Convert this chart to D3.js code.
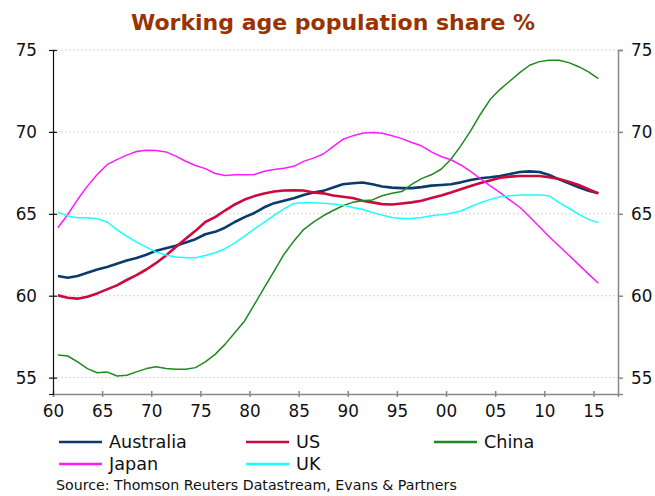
<!DOCTYPE html>
<html>
<head>
<meta charset="utf-8">
<script src="https://cdn.jsdelivr.net/npm/d3@7"></script>
<style>
  body { margin: 0; background: #fff; }
  text { font-family: "DejaVu Sans", Verdana, sans-serif; }
</style>
</head>
<body>
<div class="chart-area"></div>
<script>
const width = 655
const height = 496
const margin = { top: 50, right: 37, bottom: 102, left: 53 }

// annual data, 1960 to 2015
const years = d3.range(1960, 2016)
const australia = [61.2, 61.1, 61.2, 61.4, 61.6, 61.75, 61.95, 62.15, 62.3, 62.5,
  62.75, 62.9, 63.05, 63.25, 63.45, 63.75, 63.9, 64.15, 64.5, 64.8,
  65.05, 65.4, 65.65, 65.8, 65.95, 66.15, 66.3, 66.4, 66.6, 66.8,
  66.87, 66.91, 66.8, 66.67, 66.6, 66.57, 66.57, 66.63, 66.72, 66.76,
  66.8, 66.92, 67.06, 67.17, 67.23, 67.31, 67.43, 67.55, 67.59, 67.55,
  67.37, 67.1, 66.86, 66.62, 66.41, 66.25]
const us = [60.02, 59.88, 59.82, 59.94, 60.14, 60.39, 60.63, 60.96, 61.26, 61.6,
  62.0, 62.46, 62.97, 63.48, 63.96, 64.5, 64.8, 65.2, 65.57, 65.87,
  66.08, 66.24, 66.36, 66.42, 66.44, 66.42, 66.3, 66.25, 66.12, 66.04,
  65.96, 65.8, 65.7, 65.59, 65.57, 65.63, 65.7, 65.8, 65.96, 66.12,
  66.3, 66.5, 66.7, 66.88, 67.04, 67.2, 67.27, 67.31, 67.31, 67.31,
  67.23, 67.12, 66.96, 66.76, 66.5, 66.25]
const china = [56.38, 56.32, 55.96, 55.55, 55.3, 55.35, 55.1, 55.14, 55.35, 55.55,
  55.67, 55.55, 55.51, 55.51, 55.61, 55.96, 56.42, 57.03, 57.74, 58.46,
  59.47, 60.49, 61.5, 62.52, 63.33, 64.04, 64.49, 64.88, 65.2, 65.49,
  65.7, 65.8, 65.85, 66.1, 66.26, 66.36, 66.8, 67.15, 67.38, 67.72,
  68.33, 69.15, 70.06, 71.08, 71.99, 72.6, 73.11, 73.62, 74.07, 74.29,
  74.37, 74.37, 74.23, 73.98, 73.66, 73.25]
const japan = [64.15, 64.96, 65.87, 66.69, 67.4, 68.0, 68.31, 68.58, 68.8, 68.88,
  68.86, 68.78, 68.52, 68.21, 67.95, 67.76, 67.46, 67.34, 67.38, 67.38,
  67.4, 67.6, 67.7, 67.78, 67.9, 68.2, 68.4, 68.65, 69.1, 69.55,
  69.76, 69.92, 69.96, 69.92, 69.76, 69.59, 69.35, 69.15, 68.78, 68.5,
  68.3, 67.98, 67.59, 67.14, 66.7, 66.29, 65.84, 65.4, 64.82, 64.21,
  63.6, 63.03, 62.47, 61.9, 61.32, 60.76]
const uk = [65.1, 64.86, 64.76, 64.76, 64.7, 64.5, 64.04, 63.64, 63.27, 62.97,
  62.66, 62.48, 62.36, 62.32, 62.32, 62.46, 62.62, 62.87, 63.23, 63.64,
  64.08, 64.49, 64.9, 65.3, 65.63, 65.67, 65.67, 65.65, 65.6, 65.53,
  65.39, 65.28, 65.08, 64.92, 64.78, 64.72, 64.72, 64.78, 64.88, 64.95,
  65.03, 65.17, 65.43, 65.68, 65.88, 66.04, 66.1, 66.15, 66.15, 66.15,
  66.1, 65.68, 65.34, 64.97, 64.66, 64.46]

const yTicks = [55, 60, 65, 70, 75]
const xTicks = d3.range(1960, 2016, 5)

const series = [
  { name: 'Australia', values: australia, color: '#0c3a6c', width: 2.6 },
  { name: 'US', values: us, color: '#cc0a3e', width: 2.6 },
  { name: 'China', values: china, color: '#1e8a1e', width: 1.5 },
  { name: 'Japan', values: japan, color: '#ff1aff', width: 1.5 },
  { name: 'UK', values: uk, color: '#1affff', width: 1.5 }
]

const svg = d3.select('.chart-area').append('svg')
  .attr('width', width)
  .attr('height', height)

const x = d3.scaleLinear()
  .domain([1960, 2017.5])
  .range([margin.left, width - margin.right])
const y = d3.scaleLinear()
  .domain([54, 75])
  .range([height - margin.bottom, margin.top])

// title
svg.append('text')
  .attr('x', 333)
  .attr('y', 30)
  .attr('text-anchor', 'middle')
  .attr('font-size', 22)
  .attr('font-weight', 'bold')
  .attr('fill', '#993300')
  .text('Working age population share %')

// gridlines
svg.append('g')
  .selectAll('line')
  .data(yTicks)
  .enter()
  .append('line')
  .attr('x1', x.range()[0])
  .attr('x2', x.range()[1])
  .attr('y1', d => y(d))
  .attr('y2', d => y(d))
  .attr('stroke', '#d4d4d4')
  .attr('stroke-dasharray', '2,2')

// lines, mid-year points
const line = d3.line()
  .x((d, i) => x(years[i] + 0.5))
  .y(d => y(d))

svg.append('g')
  .selectAll('path')
  .data(series)
  .enter()
  .append('path')
  .attr('d', d => line(d.values))
  .attr('fill', 'none')
  .attr('stroke', d => d.color)
  .attr('stroke-width', d => d.width)
  .attr('stroke-linejoin', 'round')

// axes
const fontSize = 16.8

svg.append('g')
  .attr('transform', `translate(0,${y.range()[0]})`)
  .call(d3.axisBottom(x).tickValues(xTicks).tickFormat(d => String(d).slice(2))
    .tickSizeOuter(0).tickSize(3).tickPadding(8))
  .call(g => g.selectAll('.tick line').attr('y1', -3))
  .call(g => g.selectAll('.domain, .tick line').attr('stroke', '#888').attr('stroke-width', 1.5))
  .call(g => g.selectAll('text').attr('font-size', fontSize).attr('fill', '#111')
    .style('font-family', '"DejaVu Sans", Verdana, sans-serif'))

svg.append('g')
  .attr('transform', `translate(${x.range()[1]},0)`)
  .call(d3.axisRight(y).tickValues(yTicks).tickSizeOuter(0).tickSize(5).tickPadding(8))
  .call(g => g.selectAll('.domain, .tick line').attr('stroke', '#888').attr('stroke-width', 1.5))
  .call(g => g.selectAll('text').attr('font-size', fontSize).attr('fill', '#111')
    .style('font-family', '"DejaVu Sans", Verdana, sans-serif'))

svg.append('g')
  .attr('transform', `translate(${x.range()[0]},0)`)
  .call(d3.axisLeft(y).tickValues(yTicks).tickSizeOuter(0).tickSize(4).tickPadding(12))
  .call(g => g.selectAll('.tick line').attr('x1', 4))
  .call(g => g.selectAll('.domain, .tick line').attr('stroke', '#111').attr('stroke-width', 1.2))
  .call(g => g.selectAll('text').attr('font-size', fontSize).attr('fill', '#111')
    .style('font-family', '"DejaVu Sans", Verdana, sans-serif'))

// legend, 3 columns
const legendCols = [59, 246, 434]
const legendRows = [442, 464]

const legend = svg.append('g')
  .selectAll('g')
  .data(series)
  .enter()
  .append('g')
  .attr('transform', (d, i) => `translate(${legendCols[i % 3]},${legendRows[Math.floor(i / 3)]})`)

legend.append('line')
  .attr('x1', 0)
  .attr('x2', 43)
  .attr('stroke', d => d.color)
  .attr('stroke-width', 2.6)

legend.append('text')
  .attr('x', 50)
  .attr('y', 6)
  .attr('font-size', 17.6)
  .attr('fill', '#111')
  .text(d => d.name)

svg.append('text')
  .attr('x', 56)
  .attr('y', 490)
  .attr('font-size', 14.2)
  .attr('fill', '#111')
  .text('Source: Thomson Reuters Datastream, Evans & Partners')
</script>
</body>
</html>
